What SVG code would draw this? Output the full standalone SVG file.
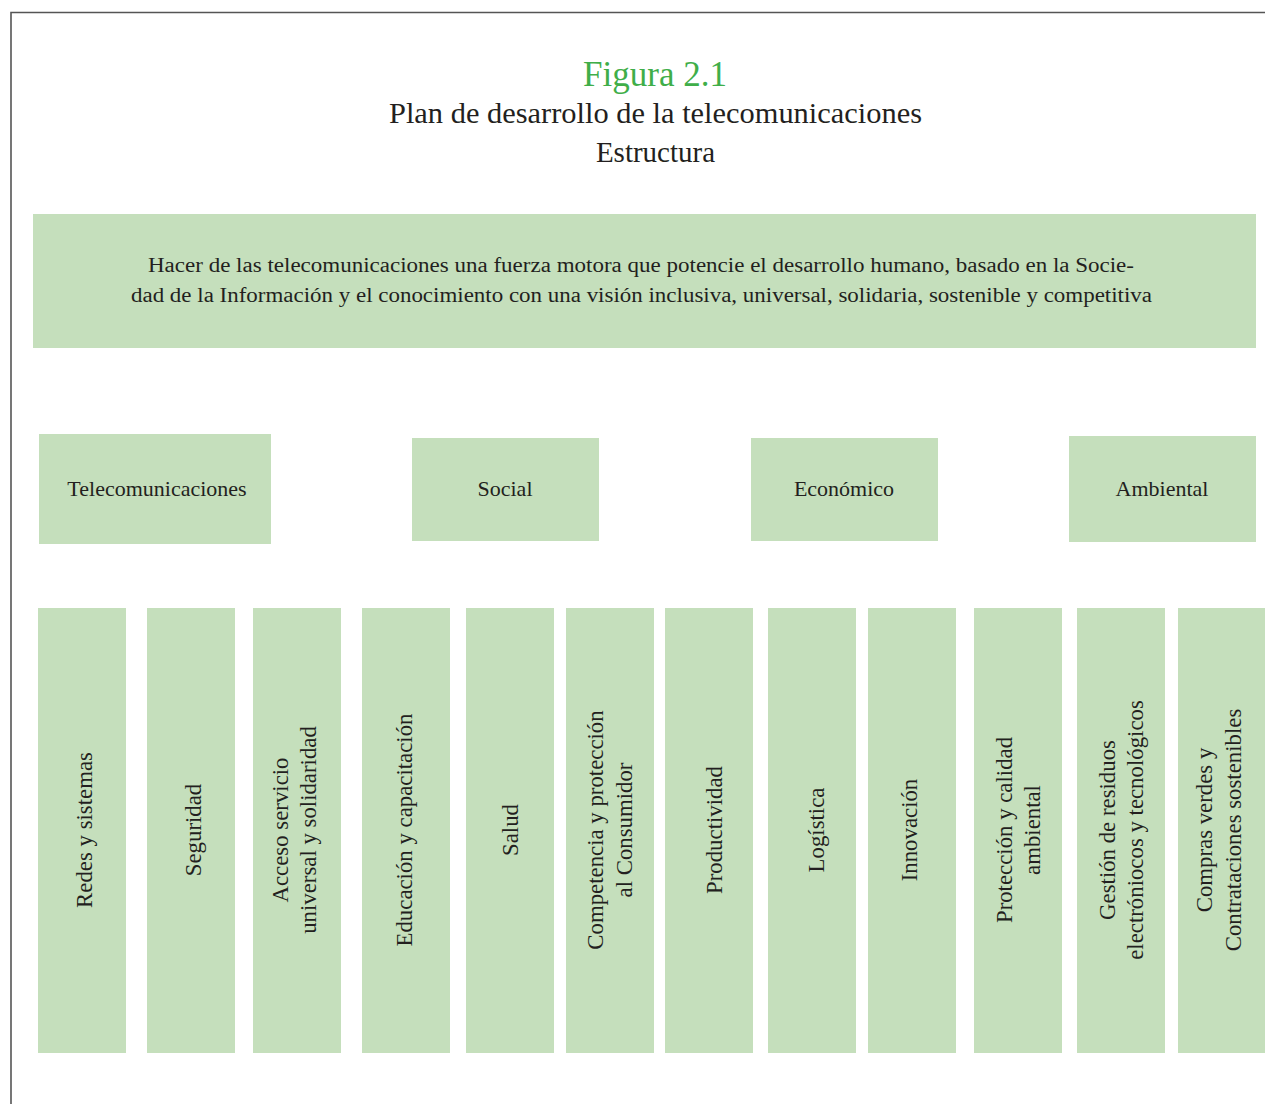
<svg xmlns="http://www.w3.org/2000/svg" width="1265" height="1104" viewBox="0 0 1265 1104">
<style>
.box{fill:#c5dfbc}
.t{font-family:"Liberation Serif","Times New Roman",serif;fill:#231f20}
.cat{font-size:22px;text-anchor:middle}
.col{font-size:22.8px;text-anchor:middle}
.top{font-size:20px;text-anchor:middle}
</style>
<rect width="1265" height="1104" fill="#ffffff"/>
<path d="M11,1104 V12.5 H1265" fill="none" stroke="#555" stroke-width="1.6"/>
<g id="title">
<text class="t" x="655" y="86" font-size="35" text-anchor="middle" style="fill:#3fae49">Figura 2.1</text>
<text class="t" x="655.5" y="123" font-size="29" text-anchor="middle" textLength="533" lengthAdjust="spacingAndGlyphs">Plan de desarrollo de la telecomunicaciones</text>
<text class="t" x="655.5" y="162" font-size="29" text-anchor="middle">Estructura</text>
</g>
<g id="vision">
<rect class="box" x="33" y="214" width="1223" height="134"/>
<text class="t top" x="641" y="272" textLength="986" lengthAdjust="spacingAndGlyphs">Hacer de las telecomunicaciones una fuerza motora que potencie el desarrollo humano, basado en la Socie-</text>
<text class="t top" x="641.5" y="302" textLength="1021" lengthAdjust="spacingAndGlyphs">dad de la Información y el conocimiento con una visión inclusiva, universal, solidaria, sostenible y competitiva</text>
</g>
<g id="cat-telecomunicaciones">
<rect class="box" x="39" y="434" width="232" height="110"/>
<text class="t cat" x="157" y="496">Telecomunicaciones</text>
</g>
<g id="cat-social">
<rect class="box" x="412" y="438" width="187" height="103"/>
<text class="t cat" x="505" y="496">Social</text>
</g>
<g id="cat-economico">
<rect class="box" x="751" y="438" width="187" height="103"/>
<text class="t cat" x="844" y="496">Económico</text>
</g>
<g id="cat-ambiental">
<rect class="box" x="1069" y="436" width="187" height="106"/>
<text class="t cat" x="1162" y="496">Ambiental</text>
</g>
<g id="connectors"></g>
<g id="col-redes">
<rect class="box" x="38" y="608" width="88" height="445"/>
<text class="t col" transform="translate(92,830) rotate(-90)">Redes y sistemas</text>
</g>
<g id="col-seguridad">
<rect class="box" x="147" y="608" width="88" height="445"/>
<text class="t col" transform="translate(201,830) rotate(-90)">Seguridad</text>
</g>
<g id="col-acceso">
<rect class="box" x="253" y="608" width="88" height="445"/>
<text class="t col" transform="translate(288,830) rotate(-90)">Acceso servicio</text>
<text class="t col" transform="translate(316,830) rotate(-90)">universal y solidaridad</text>
</g>
<g id="col-educacion">
<rect class="box" x="362" y="608" width="88" height="445"/>
<text class="t col" transform="translate(412,830) rotate(-90)">Educación y capacitación</text>
</g>
<g id="col-salud">
<rect class="box" x="466" y="608" width="88" height="445"/>
<text class="t col" transform="translate(518,830) rotate(-90)">Salud</text>
</g>
<g id="col-competencia">
<rect class="box" x="566" y="608" width="88" height="445"/>
<text class="t col" transform="translate(603,830) rotate(-90)">Competencia y protección</text>
<text class="t col" transform="translate(632,830) rotate(-90)">al Consumidor</text>
</g>
<g id="col-productividad">
<rect class="box" x="665" y="608" width="88" height="445"/>
<text class="t col" transform="translate(722,830) rotate(-90)">Productividad</text>
</g>
<g id="col-logistica">
<rect class="box" x="768" y="608" width="88" height="445"/>
<text class="t col" transform="translate(824,830) rotate(-90)">Logística</text>
</g>
<g id="col-innovacion">
<rect class="box" x="868" y="608" width="88" height="445"/>
<text class="t col" transform="translate(917,830) rotate(-90)">Innovación</text>
</g>
<g id="col-proteccion">
<rect class="box" x="974" y="608" width="88" height="445"/>
<text class="t col" transform="translate(1012,830) rotate(-90)">Protección y calidad</text>
<text class="t col" transform="translate(1040,830) rotate(-90)">ambiental</text>
</g>
<g id="col-gestion">
<rect class="box" x="1077" y="608" width="88" height="445"/>
<text class="t col" transform="translate(1115,830) rotate(-90)">Gestión de residuos</text>
<text class="t col" transform="translate(1143,830) rotate(-90)">electróniocos y tecnológicos</text>
</g>
<g id="col-compras">
<rect class="box" x="1178" y="608" width="87" height="445"/>
<text class="t col" transform="translate(1212,830) rotate(-90)">Compras verdes y</text>
<text class="t col" transform="translate(1241,830) rotate(-90)">Contrataciones sostenibles</text>
</g>
</svg>
